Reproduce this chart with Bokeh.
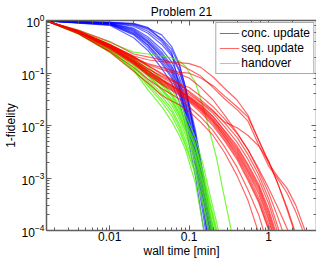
import numpy as np
from bokeh.plotting import figure
from bokeh.models import (LogAxis, LogTicker, Legend, LegendItem, Range1d,
                          ColumnDataSource, CustomJSTickFormatter)
from bokeh.embed import file_html
from bokeh.resources import INLINE

# ---------------- data ----------------
# wall time [min] sample points for each solver family
time_conc = [0.0016, 0.01, 0.02, 0.03, 0.045, 0.06, 0.075, 0.09, 0.12, 0.15, 0.18, 0.22]
time_hand = [0.0016, 0.004, 0.01, 0.02, 0.03, 0.045, 0.06, 0.075, 0.09, 0.12, 0.15, 0.18, 0.22, 0.27, 0.34]
time_seq = [0.0016, 0.004, 0.01, 0.02, 0.03, 0.045, 0.06, 0.075, 0.1, 0.14, 0.2, 0.28, 0.4, 0.55,
            0.75, 1.0, 1.3, 1.7, 2.2, 2.8, 3.5]

# 1-fidelity, one list per run ("conc. update")
conc_runs = [
    [0.979, 0.919, 0.882, 0.745, 0.431, 0.250, 0.0528, 0.0170, 0.00344, 0.000641, 0.000130, 0.0000274],
    [0.979, 0.919, 0.845, 0.685, 0.450, 0.284, 0.139, 0.0528, 0.00796, 0.00120, 0.000224, 0.0000473],
    [0.979, 0.900, 0.777, 0.579, 0.350, 0.211, 0.108, 0.0428, 0.00646, 0.000975, 0.000182, 0.0000368],
    [0.979, 0.882, 0.715, 0.490, 0.284, 0.164, 0.0838, 0.0347, 0.00523, 0.000791, 0.000141, 0.0000311],
    [0.979, 0.882, 0.685, 0.450, 0.250, 0.139, 0.0709, 0.0281, 0.00425, 0.000641, 0.000110, 0.0000222],
    [0.979, 0.863, 0.630, 0.397, 0.211, 0.117, 0.0574, 0.0228, 0.00316, 0.000458, 0.0000784, 0.0000146],
    [0.979, 0.845, 0.579, 0.350, 0.179, 0.0991, 0.0466, 0.0185, 0.00226, 0.000301, 0.0000473, 0.0000096],
    [0.979, 0.828, 0.532, 0.308, 0.151, 0.0804, 0.0377, 0.0138, 0.00161, 0.000198, 0.0000311, 0.0000063],
    [0.979, 0.810, 0.469, 0.272, 0.122, 0.0651, 0.0281, 0.00984, 0.00106, 0.000119, 0.0000180, 0.0000041],
    [0.979, 0.882, 0.657, 0.414, 0.230, 0.128, 0.0651, 0.0258, 0.00374, 0.000542, 0.0000967, 0.0000204],
    [0.979, 0.863, 0.604, 0.380, 0.203, 0.108, 0.0528, 0.0201, 0.00279, 0.000387, 0.0000635, 0.0000134],
    [0.979, 0.900, 0.810, 0.630, 0.397, 0.230, 0.117, 0.0466, 0.00646, 0.000897, 0.000167, 0.0000368],
    [0.979, 0.845, 0.555, 0.336, 0.164, 0.0874, 0.0428, 0.0163, 0.00208, 0.000277, 0.0000473, 0.0000096],
    [0.979, 0.919, 0.863, 0.715, 0.532, 0.322, 0.151, 0.0528, 0.00523, 0.000641, 0.000119, 0.0000274],
]

# 1-fidelity, one list per run ("handover")
hand_runs = [
    [0.979, 0.630, 0.350, 0.203, 0.133, 0.0771, 0.0486, 0.0281, 0.0156, 0.00569, 0.00176, 0.000519, 0.000147, 0.0000368, 0.0000096],
    [0.979, 0.630, 0.336, 0.186, 0.117, 0.0651, 0.0410, 0.0238, 0.0127, 0.00443, 0.00131, 0.000387, 0.000110, 0.0000263, 0.0000063],
    [0.979, 0.604, 0.322, 0.171, 0.103, 0.0574, 0.0362, 0.0201, 0.0107, 0.00374, 0.00106, 0.000301, 0.0000853, 0.0000204, 0.0000049],
    [0.979, 0.604, 0.308, 0.164, 0.0951, 0.0506, 0.0319, 0.0177, 0.00904, 0.00303, 0.000859, 0.000244, 0.0000691, 0.0000159, 0.0000041],
    [0.979, 0.591, 0.296, 0.151, 0.0874, 0.0466, 0.0281, 0.0150, 0.00764, 0.00246, 0.000697, 0.000198, 0.0000560, 0.0000134, 0.0000041],
    [0.979, 0.579, 0.284, 0.139, 0.0771, 0.0410, 0.0248, 0.0132, 0.00646, 0.00208, 0.000565, 0.000160, 0.0000473, 0.0000113, 0.0000041],
    [0.979, 0.579, 0.272, 0.128, 0.0709, 0.0362, 0.0209, 0.0107, 0.00523, 0.00161, 0.000458, 0.000130, 0.0000368, 0.0000096, 0.0000041],
    [0.979, 0.604, 0.322, 0.179, 0.112, 0.0625, 0.0394, 0.0218, 0.0116, 0.00390, 0.00115, 0.000341, 0.0000967, 0.0000222, 0.0000051],
    [0.979, 0.591, 0.308, 0.157, 0.0912, 0.0486, 0.0306, 0.0163, 0.00831, 0.00267, 0.000758, 0.000215, 0.0000609, 0.0000146, 0.0000041],
    [0.979, 0.567, 0.261, 0.117, 0.0625, 0.0319, 0.0185, 0.00942, 0.00443, 0.00131, 0.000341, 0.0000967, 0.0000274, 0.0000078, 0.0000041],
    [0.979, 0.555, 0.250, 0.112, 0.0486, 0.0228, 0.0121, 0.00646, 0.00344, 0.000791, 0.000119, 0.0000222, 0.0000041, None, None],
    [0.979, 0.657, 0.380, 0.250, 0.230, 0.211, 0.194, 0.171, 0.133, 0.0651, 0.0228, 0.00796, 0.00246, 0.000519, 0.0000967],
    [0.979, 0.579, 0.272, 0.117, 0.0574, 0.0281, 0.0156, 0.00796, 0.00407, 0.00115, 0.000301, 0.0000721, 0.0000146, None, None],
]

# 1-fidelity, one list per run ("seq. update")
seq_runs = [
    [0.979, 0.604, 0.308, 0.164, 0.108, 0.0739, 0.0574, 0.0466, 0.0347, 0.0228, 0.0132, 0.00703, 0.00344, 0.00149, 0.000641, 0.000198, 0.0000560, 0.0000118],
    [0.979, 0.604, 0.322, 0.171, 0.112, 0.0771, 0.0599, 0.0486, 0.0362, 0.0248, 0.0150, 0.00796, 0.00407, 0.00183, 0.000758, 0.000254, 0.0000721, 0.0000159],
    [0.979, 0.591, 0.296, 0.157, 0.0991, 0.0680, 0.0528, 0.0428, 0.0319, 0.0209, 0.0121, 0.00619, 0.00291, 0.00126, 0.000498, 0.000154, 0.0000417],
    [0.979, 0.630, 0.336, 0.186, 0.122, 0.0838, 0.0651, 0.0528, 0.0394, 0.0270, 0.0170, 0.00942, 0.00481, 0.00226, 0.000935, 0.000327, 0.0000927, 0.0000222],
    [0.979, 0.579, 0.284, 0.145, 0.0912, 0.0599, 0.0466, 0.0377, 0.0281, 0.0177, 0.00984, 0.00502, 0.00226, 0.000897, 0.000341, 0.000101, 0.0000263],
    [0.979, 0.567, 0.250, 0.108, 0.0651, 0.0377, 0.0293, 0.0248, 0.0185, 0.0116, 0.00646, 0.00303, 0.00111, 0.000371, 0.0000889, 0.0000180],
    [0.979, 0.604, 0.308, 0.164, 0.103, 0.0709, 0.0551, 0.0447, 0.0333, 0.0218, 0.0127, 0.00674, 0.00316, 0.00136, 0.000565, 0.000174, 0.0000473],
    [0.979, 0.617, 0.322, 0.171, 0.112, 0.0739, 0.0574, 0.0466, 0.0347, 0.0238, 0.0144, 0.00764, 0.00374, 0.00168, 0.000697, 0.000224, 0.0000635, 0.0000146],
    [0.979, 0.604, 0.296, 0.151, 0.0951, 0.0625, 0.0486, 0.0394, 0.0293, 0.0193, 0.0107, 0.00546, 0.00246, 0.000975, 0.000371, 0.000110, 0.0000298],
    [0.979, 0.567, 0.261, 0.128, 0.0771, 0.0506, 0.0394, 0.0319, 0.0228, 0.0144, 0.00796, 0.00390, 0.00161, 0.000589, 0.000198, 0.0000473],
    [0.979, 0.630, 0.350, 0.203, 0.139, 0.0951, 0.0739, 0.0599, 0.0447, 0.0306, 0.0193, 0.0111, 0.00594, 0.00279, 0.00115, 0.000403, 0.000119, 0.0000274],
    [0.979, 0.604, 0.308, 0.157, 0.0991, 0.0651, 0.0506, 0.0410, 0.0306, 0.0201, 0.0116, 0.00594, 0.00267, 0.00111, 0.000421, 0.000130, 0.0000338],
    [0.979, 0.657, 0.397, 0.230, 0.203, 0.179, 0.164, 0.157, 0.151, 0.128, 0.0838, 0.0506, 0.0306, 0.0156, 0.00523, 0.00191, 0.00106, 0.000641, 0.000301, 0.000110, 0.0000417],
    [0.979, 0.630, 0.350, 0.211, 0.179, 0.164, 0.157, 0.145, 0.117, 0.0874, 0.0528, 0.0319, 0.0201, 0.0121, 0.00425, 0.00168, 0.000975, 0.000519, 0.000224, 0.0000853],
    [0.979, 0.630, 0.350, 0.203, 0.145, 0.117, 0.103, 0.0951, 0.0804, 0.0528, 0.0306, 0.0156, 0.00733, 0.00344, 0.00149, 0.000641, 0.000277, 0.000110, 0.0000417],
    [0.979, 0.617, 0.336, 0.194, 0.139, 0.0991, 0.0771, 0.0625, 0.0428, 0.0281, 0.0185, 0.0116, 0.00904, 0.00646, 0.00407, 0.00208, 0.000791, 0.000254, 0.0000784],
    [0.979, 0.604, 0.322, 0.179, 0.122, 0.0874, 0.0709, 0.0625, 0.0528, 0.0362, 0.0228, 0.0132, 0.00703, 0.00344, 0.00136, 0.000519, 0.000182, 0.0000560],
    [0.979, 0.630, 0.336, 0.194, 0.151, 0.128, 0.112, 0.103, 0.0991, 0.0804, 0.0574, 0.0362, 0.0228, 0.0144, 0.00523, 0.00208, 0.000791, 0.000277, 0.0000853],
]

series_labels = ["conc. update", "seq. update", "handover"]

FONT = "Liberation Sans"
AX = "#5f5f5f"


def to_lines(times, runs):
    xs, ys = [], []
    for run in runs:
        xs.append([t for t, f in zip(times, run) if f is not None])
        ys.append([f for f in run if f is not None])
    return ColumnDataSource(dict(xs=xs, ys=ys))


p = figure(width=316, height=260, x_axis_type="log", y_axis_type="log",
           x_range=Range1d(0.0016, 4.0), y_range=Range1d(1e-4, 1.0),
           output_backend="svg", toolbar_location=None,
           title="Problem 21", min_border_left=0, min_border_right=0,
           min_border_top=0, min_border_bottom=0)

p.title.align = "center"
p.title.text_font = FONT
p.title.text_font_size = "12px"
p.title.text_font_style = "normal"
p.title.text_color = "black"
p.title.standoff = 4

p.grid.visible = False
p.outline_line_color = None
p.background_fill_color = "white"
p.border_fill_color = "white"

r_blue = p.multi_line("xs", "ys", source=to_lines(time_conc, conc_runs),
                      line_color="#0000ff", line_alpha=0.6, line_width=1.2)
r_green = p.multi_line("xs", "ys", source=to_lines(time_hand, hand_runs),
                       line_color="#4cf500", line_alpha=0.75, line_width=1.2)
r_red = p.multi_line("xs", "ys", source=to_lines(time_seq, seq_runs),
                     line_color="#ff0000", line_alpha=0.6, line_width=1.2)

bottom_ax = p.below[0]
left_ax = p.left[0]
bottom_ax.formatter = CustomJSTickFormatter(code="return Number(tick.toPrecision(1)).toString();")
bottom_ax.axis_label = "wall time [min]"
left_ax.axis_label = "1-fidelity"

blank = CustomJSTickFormatter(code="return '';")
top_ax = LogAxis(ticker=LogTicker(), formatter=blank)
right_ax = LogAxis(ticker=LogTicker(), formatter=blank)
p.add_layout(top_ax, "above")
p.add_layout(right_ax, "right")

for ax in [bottom_ax, left_ax, top_ax, right_ax]:
    ax.axis_line_color = AX
    ax.axis_line_width = 1.5
    ax.major_tick_line_color = AX
    ax.minor_tick_line_color = AX
    ax.major_tick_in = 5
    ax.major_tick_out = 0
    ax.minor_tick_in = 3
    ax.minor_tick_out = 0
    ax.major_label_text_font = FONT
    ax.major_label_text_font_size = "12px"
    ax.major_label_text_color = "black"
    ax.major_label_standoff = 2
    ax.axis_label_text_font = FONT
    ax.axis_label_text_font_size = "12px"
    ax.axis_label_text_font_style = "normal"
    ax.axis_label_text_color = "black"
    ax.axis_label_standoff = 1

bottom_ax.major_label_standoff = 1
bottom_ax.axis_label_standoff = 0

for ax in [top_ax, right_ax]:
    ax.major_label_standoff = 0
    ax.axis_label_standoff = 0

legend = Legend(items=[LegendItem(label=series_labels[0], renderers=[r_blue]),
                       LegendItem(label=series_labels[1], renderers=[r_red]),
                       LegendItem(label=series_labels[2], renderers=[r_green])],
                location="top_right")
legend.label_text_font = FONT
legend.label_text_font_size = "12px"
legend.label_text_color = "black"
legend.border_line_color = "#555555"
legend.border_line_width = 1.5
legend.background_fill_color = "white"
legend.background_fill_alpha = 1.0
legend.glyph_width = 20
legend.glyph_height = 14
legend.label_height = 14
legend.label_standoff = 2
legend.spacing = 1
legend.padding = 3
legend.margin = 2
p.add_layout(legend)

open("out.html", "w").write(file_html(p, INLINE))
